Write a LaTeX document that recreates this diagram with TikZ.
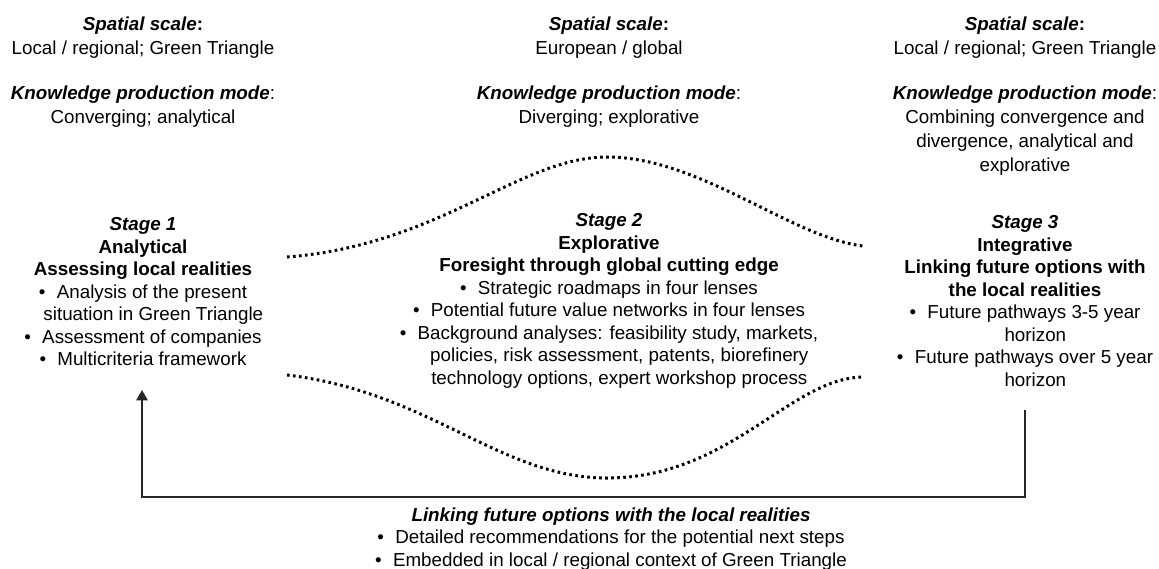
\documentclass[tikz,border=0pt]{standalone}
\usepackage{fontspec}
\setmainfont{Liberation Sans}
\usetikzlibrary{arrows.meta}
\newcommand{\hd}[1]{\textbf{\textit{#1}}}
\newcommand{\itm}{\textbullet\hspace{0.6em}}
\newcommand{\cont}[1]{\hspace*{1.1em}#1}

\begin{document}
\begin{tikzpicture}[x=0.532pt, y=-0.532pt,
  txt/.style={align=center, anchor=north, inner sep=0pt, font=\fontsize{10}{12}\selectfont},
  toptxt/.style={txt, font=\fontsize{10}{12.8}\selectfont},
  wave/.style={line width=1.6pt, dash pattern=on 1.4pt off 1.8pt},
  feedback/.style={line width=1pt, black!85, -{Triangle[length=5.5pt,width=6pt]}}]
\useasboundingbox (0,0) rectangle (1159,568);

% Spatial scale of the three stages
\node[toptxt] (scale1) at (143,16) {\textbf{\textit{Spatial scale}:}\\Local / regional; Green Triangle};
\node[toptxt] (scale2) at (609,16) {\textbf{\textit{Spatial scale}:}\\European / global};
\node[toptxt] (scale3) at (1025,16) {\textbf{\textit{Spatial scale}:}\\Local / regional; Green Triangle};

% Knowledge production mode
\node[toptxt] (mode1) at (143,85) {\hd{Knowledge production mode}:\\Converging; analytical};
\node[toptxt] (mode2) at (609,85) {\hd{Knowledge production mode}:\\Diverging; explorative};
\node[toptxt] (mode3) at (1025,85) {\hd{Knowledge production mode}:\\Combining convergence and\\divergence, analytical and\\explorative};

% Stages
\node[txt] (stage1) at (143,217) {\hd{Stage 1}\\\textbf{Analytical}\\\textbf{Assessing local realities}\\
  \itm Analysis of the present\\\cont{situation in Green Triangle}\\
  \itm Assessment of companies\\\itm Multicriteria framework};
\node[txt] (stage2) at (609,213) {\hd{Stage 2}\\\textbf{Explorative}\\\textbf{Foresight through global cutting edge}\\
  \itm Strategic roadmaps in four lenses\\\itm Potential future value networks in four lenses\\
  \itm Background analyses: feasibility study, markets,\\\cont{policies, risk assessment, patents, biorefinery}\\
  \cont{technology options, expert workshop process}};
\node[txt] (stage3) at (1025,215) {\hd{Stage 3}\\\textbf{Integrative}\\\textbf{Linking future options with}\\\textbf{the local realities}\\
  \itm Future pathways 3-5 year\\\cont{horizon}\\
  \itm Future pathways over 5 year\\\cont{horizon}};

% Diverging / converging envelope round stage 2
\draw[wave] (287,257) .. controls (440,245) and (520,157) .. (607,157)
  .. controls (700,157) and (790,237) .. (863,246);
\draw[wave] (287,375) .. controls (430,392) and (500,478) .. (607,478)
  .. controls (730,478) and (790,378) .. (863,377);

% Feedback from stage 3 back to stage 1
\coordinate (back from) at (1025,410);
\coordinate (back to) at (142,390);
\draw[feedback] (back from) -- ++(0,87) -| (back to);

\node[txt] (link) at (611,507) {\hd{Linking future options with the local realities}\\
  \itm Detailed recommendations for the potential next steps\\
  \itm Embedded in local / regional context of Green Triangle};
\end{tikzpicture}
\end{document}
